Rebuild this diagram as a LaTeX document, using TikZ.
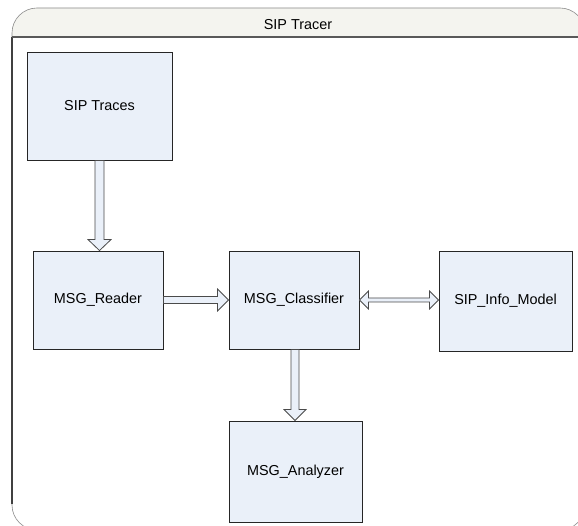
\documentclass[tikz,border=0pt]{standalone}
\usepackage{fontspec}
\setmainfont{Liberation Sans}
\usetikzlibrary{calc}
\definecolor{boxfill}{HTML}{EAF0F9}
\definecolor{titlefill}{HTML}{F4F4EF}
\definecolor{arrowline}{HTML}{4A4A4A}
\definecolor{frameline}{HTML}{8A8A8A}

\begin{document}
\begin{tikzpicture}[x=1pt,y=-1pt,
  font=\fontsize{14.4}{17}\selectfont,
  block/.style={draw=black!85, line width=0.9pt, fill=boxfill, inner sep=0pt},
  fat/.style={draw=arrowline, line width=0.8pt, fill=boxfill, line join=miter}]
\useasboundingbox (0,0) rectangle (578,526);

% container frame with title bar
\fill[white] (0,0) rectangle (578,526);
\filldraw[fill=titlefill, draw=frameline, line width=0.6pt]
  (12,37) [rounded corners=25] -- (12,8) -- (585,8) [sharp corners] -- (585,37) -- cycle;
\draw[draw=frameline, line width=0.6pt, rounded corners=25]
  (12,37) -- (12,530) -- (585,530) -- (585,37);
\draw[draw=black!75, line width=1.2pt] (12,37) -- (12,504);
\draw[draw=black!65, line width=1.4pt] (12,37) -- (585,37);
\node (title) at (298,24.5) {SIP Tracer};

% components
\node[block, minimum width=145, minimum height=108] (traces) at (99.5,106) {SIP Traces};
\node[block, minimum width=130, minimum height=98] (reader) at (98,300) {MSG\_Reader};
\node[block, minimum width=130, minimum height=98] (classifier) at (294,300) {MSG\_Classifier};
\node[block, minimum width=133, minimum height=100] (info) at (505.5,301) {SIP\_Info\_Model};
\node[block, minimum width=133, minimum height=101] (analyzer) at (295.5,471.5) {MSG\_Analyzer};

% traces -> reader
\coordinate (t1) at (traces.south |- reader.north);
\draw[fat] ($(traces.south)+(-4.5,0)$) -- ($(t1)+(-4.5,-11)$) -- ($(t1)+(-11.5,-11)$)
  -- (t1) -- ($(t1)+(11.5,-11)$) -- ($(t1)+(4.5,-11)$) -- ($(traces.south)+(4.5,0)$) -- cycle;

% reader -> classifier
\coordinate (t2) at (reader.east -| classifier.west);
\draw[fat] ($(reader.east)+(0,-3.5)$) -- ($(t2)+(-11,-3.5)$) -- ($(t2)+(-11,-11)$)
  -- (t2) -- ($(t2)+(-11,11)$) -- ($(t2)+(-11,3.5)$) -- ($(reader.east)+(0,3.5)$) -- cycle;

% classifier <-> info model
\coordinate (t3) at (classifier.east -| info.west);
\draw[fat] (classifier.east) -- ($(classifier.east)+(9,-9)$) -- ($(classifier.east)+(9,-2)$)
  -- ($(t3)+(-9,-2)$) -- ($(t3)+(-9,-9)$) -- (t3) -- ($(t3)+(-9,9)$) -- ($(t3)+(-9,2)$)
  -- ($(classifier.east)+(9,2)$) -- ($(classifier.east)+(9,9)$) -- cycle;

% classifier -> analyzer
\coordinate (s4) at ($(classifier.south)+(1,0)$);
\coordinate (t4) at (s4 |- analyzer.north);
\draw[fat] ($(s4)+(-4,0)$) -- ($(t4)+(-4,-11)$) -- ($(t4)+(-11,-11)$)
  -- (t4) -- ($(t4)+(11,-11)$) -- ($(t4)+(4,-11)$) -- ($(s4)+(4,0)$) -- cycle;
\end{tikzpicture}
\end{document}
